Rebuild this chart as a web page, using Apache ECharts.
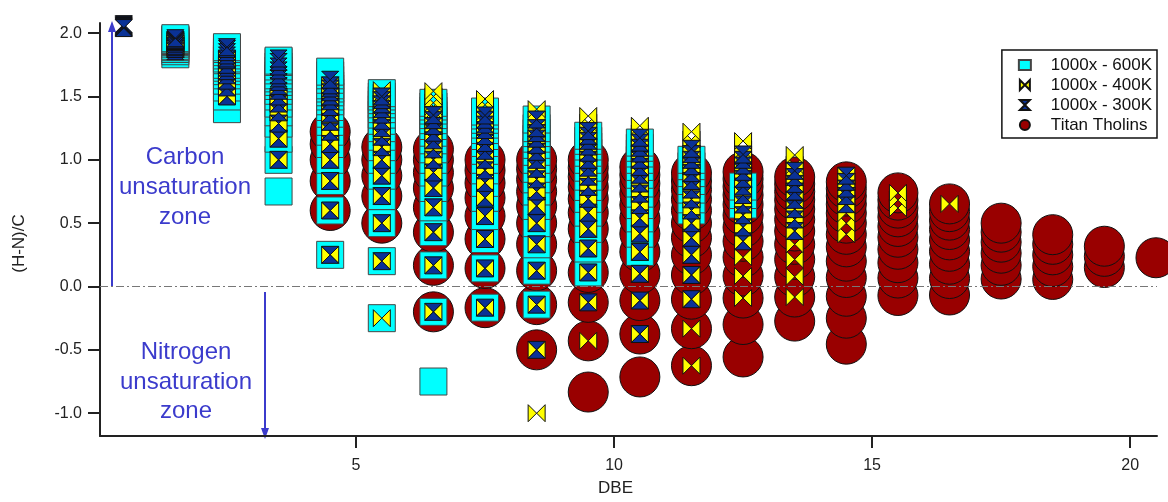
<!DOCTYPE html>
<html>
<head>
<meta charset="utf-8">
<script src="https://cdn.jsdelivr.net/npm/echarts@6/dist/echarts.min.js"></script>
<style>
html,body{margin:0;padding:0;background:#fff;}
#chart{width:1168px;height:502px;}
</style>
</head>
<body>
<div id="chart"></div>
<script>
// Each row: [DBE, (H-N)/C values...]
const seriesNames = ['1000x - 600K', '1000x - 400K', '1000x - 300K', 'Titan Tholins'];

const tholinsRows = [
  [4.5, 0.6, 0.833, 1.0, 1.125, 1.222],
  [5.5, 0.5, 0.714, 0.875, 1.0, 1.1],
  [6.5, -0.2, 0.167, 0.429, 0.625, 0.778, 0.9, 1.0, 1.083],
  [7.5, -0.167, 0.143, 0.375, 0.556, 0.7, 0.818, 0.917, 1.0],
  [8.5, -0.5, -0.143, 0.125, 0.333, 0.5, 0.636, 0.75, 0.846, 0.929, 1.0],
  [9.5, -0.833, -0.429, -0.125, 0.111, 0.3, 0.455, 0.583, 0.692, 0.786, 0.867, 0.938, 1.0],
  [10.5, -0.714, -0.375, -0.111, 0.1, 0.273, 0.417, 0.538, 0.643, 0.733, 0.813, 0.882, 0.944],
  [11.5, -0.625, -0.333, -0.1, 0.091, 0.25, 0.385, 0.5, 0.6, 0.688, 0.765, 0.833, 0.895],
  [12.5, -0.556, -0.3, -0.091, 0.083, 0.231, 0.357, 0.467, 0.563, 0.647, 0.722, 0.789, 0.85, 0.905],
  [13.5, -0.273, -0.083, 0.077, 0.214, 0.333, 0.438, 0.529, 0.611, 0.684, 0.75, 0.81, 0.864],
  [14.5, -0.455, -0.25, -0.077, 0.071, 0.2, 0.313, 0.412, 0.5, 0.579, 0.65, 0.714, 0.773, 0.826],
  [15.5, -0.071, 0.067, 0.188, 0.294, 0.389, 0.474, 0.55, 0.619, 0.682, 0.739],
  [16.5, -0.067, 0.063, 0.176, 0.278, 0.368, 0.45, 0.524, 0.591, 0.652],
  [17.5, 0.059, 0.167, 0.263, 0.35, 0.429, 0.5],
  [18.5, 0.056, 0.158, 0.25, 0.333, 0.409],
  [19.5, 0.15, 0.238, 0.318],
  [20.5, 0.227]
];

const k600Rows = [
  [1.5, 1.833, 1.857, 1.875, 1.889, 1.9, 1.917, 1.929, 1.938, 1.944, 1.95, 1.96],
  [2.5, 1.4, 1.5, 1.571, 1.625, 1.667, 1.7, 1.727, 1.75, 1.786, 1.8, 1.824, 1.85, 1.875, 1.889],
  [3.5, 0.75, 1.0, 1.167, 1.286, 1.375, 1.444, 1.5, 1.545, 1.583, 1.615, 1.643, 1.667, 1.706, 1.737, 1.773, 1.783],
  [4.5, 0.25, 0.6, 0.833, 1.0, 1.125, 1.222, 1.3, 1.364, 1.417, 1.462, 1.5, 1.533, 1.563, 1.588, 1.632, 1.667, 1.696],
  [5.5, -0.25, 0.2, 0.5, 0.714, 0.875, 1.0, 1.1, 1.182, 1.25, 1.308, 1.357, 1.4, 1.438, 1.471, 1.5, 1.526],
  [6.5, -0.75, -0.2, 0.167, 0.429, 0.625, 0.778, 0.9, 1.0, 1.083, 1.154, 1.214, 1.267, 1.313, 1.353, 1.389, 1.421, 1.45],
  [7.5, -0.167, 0.143, 0.375, 0.556, 0.7, 0.818, 0.917, 1.0, 1.071, 1.133, 1.188, 1.235, 1.278, 1.316, 1.35, 1.381],
  [8.5, -0.143, 0.125, 0.333, 0.5, 0.636, 0.75, 0.846, 0.929, 1.0, 1.063, 1.118, 1.167, 1.211, 1.25, 1.318],
  [9.5, 0.111, 0.3, 0.455, 0.583, 0.692, 0.786, 0.867, 0.938, 1.0, 1.056, 1.105, 1.15, 1.19],
  [10.5, 0.273, 0.417, 0.538, 0.643, 0.733, 0.813, 0.882, 0.944, 1.0, 1.05, 1.095, 1.136],
  [11.5, 0.6, 0.688, 0.765, 0.833, 0.895, 0.95, 1.0],
  [12.5, 0.647, 0.722, 0.789]
];

const k400Rows = [
  [1.5, 1.875, 1.9, 1.917, 1.929, 1.944],
  [2.5, 1.5, 1.571, 1.625, 1.667, 1.7, 1.75, 1.8],
  [3.5, 1.0, 1.167, 1.286, 1.375, 1.444, 1.5],
  [4.5, 0.25, 0.6, 0.833, 1.0, 1.125, 1.222, 1.3, 1.364, 1.417, 1.462, 1.5, 1.533, 1.563, 1.588],
  [5.5, -0.25, 0.2, 0.5, 0.714, 0.875, 1.0, 1.1, 1.182, 1.25, 1.308, 1.357, 1.4, 1.438, 1.471, 1.5, 1.526, 1.55],
  [6.5, -0.2, 0.167, 0.429, 0.625, 0.778, 0.9, 1.0, 1.083, 1.154, 1.214, 1.267, 1.313, 1.353, 1.389, 1.421, 1.45, 1.5, 1.542],
  [7.5, -0.167, 0.143, 0.375, 0.556, 0.7, 0.818, 0.917, 1.0, 1.071, 1.133, 1.188, 1.235, 1.278, 1.316, 1.35, 1.381, 1.435, 1.48],
  [8.5, -1.0, -0.5, -0.143, 0.125, 0.333, 0.5, 0.636, 0.75, 0.846, 0.929, 1.0, 1.063, 1.118, 1.167, 1.211, 1.25, 1.318, 1.4],
  [9.5, -0.429, -0.125, 0.111, 0.3, 0.455, 0.583, 0.692, 0.786, 0.867, 0.938, 1.0, 1.056, 1.105, 1.15, 1.19, 1.227, 1.292, 1.346],
  [10.5, -0.375, -0.111, 0.1, 0.273, 0.417, 0.538, 0.643, 0.733, 0.813, 0.882, 0.944, 1.0, 1.05, 1.095, 1.136, 1.174, 1.208, 1.269],
  [11.5, -0.625, -0.333, -0.1, 0.091, 0.25, 0.385, 0.5, 0.6, 0.688, 0.765, 0.833, 0.895, 0.95, 1.0, 1.045, 1.087, 1.16, 1.222],
  [12.5, -0.091, 0.083, 0.231, 0.357, 0.467, 0.563, 0.647, 0.722, 0.789, 0.85, 0.905, 0.955, 1.0, 1.042, 1.08, 1.148],
  [13.5, -0.083, 0.077, 0.214, 0.333, 0.438, 0.529, 0.611, 0.684, 0.75, 0.81, 0.864, 0.913, 0.958, 1.038],
  [14.5, 0.412, 0.5, 0.579, 0.65, 0.714, 0.773, 0.826, 0.875],
  [15.5, 0.619, 0.682, 0.739],
  [16.5, 0.652]
];

const k300Rows = [
  [0.5, 2.071, 2.063, 2.056, 2.05, 2.045, 2.04],
  [1.5, 1.857, 1.875, 1.889, 1.9, 1.917, 1.929, 1.938, 1.944, 1.95, 1.96],
  [2.5, 1.5, 1.571, 1.625, 1.667, 1.7, 1.727, 1.75, 1.786, 1.8, 1.824, 1.85, 1.875, 1.889],
  [3.5, 1.0, 1.167, 1.286, 1.375, 1.444, 1.5, 1.545, 1.583, 1.615, 1.643, 1.667, 1.706, 1.737, 1.773, 1.8],
  [4.5, 0.25, 0.6, 0.833, 1.0, 1.125, 1.222, 1.3, 1.364, 1.417, 1.462, 1.5, 1.533, 1.563, 1.588, 1.632],
  [5.5, 0.2, 0.5, 0.714, 0.875, 1.0, 1.1, 1.182, 1.25, 1.308, 1.357, 1.4, 1.438, 1.471, 1.5],
  [6.5, -0.2, 0.167, 0.429, 0.625, 0.778, 0.9, 1.0, 1.083, 1.154, 1.214, 1.267, 1.313, 1.353],
  [7.5, -0.167, 0.143, 0.375, 0.556, 0.7, 0.818, 0.917, 1.0, 1.071, 1.133, 1.188, 1.235, 1.278, 1.316, 1.35],
  [8.5, -0.5, -0.143, 0.125, 0.333, 0.5, 0.636, 0.75, 0.846, 0.929, 1.0, 1.063, 1.118, 1.167, 1.211, 1.25, 1.318],
  [9.5, -0.125, 0.111, 0.3, 0.455, 0.583, 0.692, 0.786, 0.867, 0.938, 1.0, 1.056, 1.105, 1.15, 1.19, 1.227],
  [10.5, -0.375, -0.111, 0.1, 0.273, 0.417, 0.538, 0.643, 0.733, 0.813, 0.882, 0.944, 1.0, 1.05, 1.095, 1.136, 1.174],
  [11.5, -0.1, 0.091, 0.25, 0.385, 0.5, 0.6, 0.688, 0.765, 0.833, 0.895, 0.95, 1.0, 1.045, 1.087],
  [12.5, 0.357, 0.467, 0.563, 0.647, 0.722, 0.789, 0.85, 0.905, 0.955, 1.0, 1.042],
  [13.5, 0.438, 0.529, 0.611, 0.684, 0.75, 0.81, 0.864, 0.913],
  [14.5, 0.65, 0.714, 0.773, 0.826, 0.875]
];

const xTicks = [5, 10, 15, 20];
const yTicks = [-1.0, -0.5, 0.0, 0.5, 1.0, 1.5, 2.0];

function flatten(rows) {
  const out = [];
  rows.forEach(r => { for (let i = 1; i < r.length; i++) out.push([r[0], r[i]]); });
  return out;
}

const BOWTIE = 'path://M0,0L10,10L0,20ZM20,0L10,10L20,20Z';
const HOURGLASS = 'path://M0,0L20,0L10,10ZM0,20L20,20L10,10Z';
const ANN = '#3b3bcc';
const FONT = '"Liberation Sans", Arial, sans-serif';

const chart = echarts.init(document.getElementById('chart'), null, {renderer: 'canvas'});
chart.setOption({
  animation: false,
  backgroundColor: '#fff',
  grid: {left: 100, right: 11, top: 23, bottom: 63, containLabel: false},
  xAxis: {
    type: 'value', min: 0.04, max: 20.52,
    name: 'DBE', nameLocation: 'middle', nameGap: 44,
    nameTextStyle: {fontSize: 17, color: '#222', fontFamily: FONT, padding: [0, 26, 0, 0]},
    axisLine: {show: true, onZero: false, lineStyle: {color: '#222', width: 2}},
    axisTick: {show: true, inside: false, length: 12, lineStyle: {color: '#222', width: 2}, customValues: xTicks},
    axisLabel: {margin: 22, fontSize: 16, color: '#222', fontFamily: FONT, customValues: xTicks},
    splitLine: {show: false}
  },
  yAxis: {
    type: 'value', min: -1.18, max: 2.08,
    name: '(H-N)/C', nameLocation: 'middle', nameGap: 72,
    nameTextStyle: {fontSize: 17, color: '#222', fontFamily: FONT, padding: [0, 28, 0, 0]},
    axisLine: {show: true, onZero: false, lineStyle: {color: '#222', width: 2}},
    axisTick: {show: true, inside: false, length: 12, lineStyle: {color: '#222', width: 2}, customValues: yTicks},
    axisLabel: {margin: 18, fontSize: 16, color: '#222', fontFamily: FONT, customValues: yTicks,
      formatter: v => Number(v).toFixed(1)},
    splitLine: {show: false}
  },
  legend: {
    orient: 'vertical', right: 11, top: 50,
    backgroundColor: '#fff', borderColor: '#111', borderWidth: 1.5,
    padding: [5, 5, 3, 16],
    itemWidth: 12, itemHeight: 10, itemGap: 0,
    selectedMode: false,
    textStyle: {fontSize: 17, color: '#111', fontFamily: FONT, lineHeight: 20, padding: [0, 0, 0, 15]},
    data: [
      {name: seriesNames[0], icon: 'rect'},
      {name: seriesNames[1], icon: BOWTIE},
      {name: seriesNames[2], icon: HOURGLASS},
      {name: seriesNames[3], icon: 'circle'}
    ]
  },
  series: [
    {
      name: seriesNames[3], type: 'scatter', clip: false,
      symbol: 'circle', symbolSize: 40,
      itemStyle: {color: '#990000', borderColor: '#111', borderWidth: 1, opacity: 1},
      data: flatten(tholinsRows)
    },
    {
      name: seriesNames[0], type: 'scatter', clip: false,
      symbol: 'rect', symbolSize: 27,
      itemStyle: {color: '#00ffff', borderColor: '#444', borderWidth: 1, opacity: 1},
      data: flatten(k600Rows)
    },
    {
      name: seriesNames[1], type: 'scatter', clip: false,
      symbol: BOWTIE, symbolSize: 17,
      itemStyle: {color: '#ffff00', borderColor: '#111', borderWidth: 1, opacity: 1},
      data: flatten(k400Rows)
    },
    {
      name: seriesNames[2], type: 'scatter', clip: false,
      symbol: HOURGLASS, symbolSize: 17,
      itemStyle: {color: '#0a3296', borderColor: '#111', borderWidth: 1, opacity: 1},
      data: flatten(k300Rows),
      markLine: {
        silent: true, symbol: 'none', z: 10,
        label: {show: false},
        lineStyle: {color: '#777', width: 1, type: [8, 3, 2, 3]},
        data: [{yAxis: 0}]
      }
    }
  ],
  graphic: [
    {type: 'line', shape: {x1: 112, y1: 287, x2: 112, y2: 30}, style: {stroke: ANN, lineWidth: 2}},
    {type: 'polygon', shape: {points: [[112, 21], [108, 32], [116, 32]]}, style: {fill: ANN}},
    {type: 'line', shape: {x1: 265, y1: 292, x2: 265, y2: 430}, style: {stroke: ANN, lineWidth: 2}},
    {type: 'polygon', shape: {points: [[265, 439], [261, 428], [269, 428]]}, style: {fill: ANN}},
    {type: 'text', x: 185, y: 157, style: {text: 'Carbon', font: '24px ' + FONT, fill: ANN, align: 'center', verticalAlign: 'middle'}},
    {type: 'text', x: 185, y: 187, style: {text: 'unsaturation', font: '24px ' + FONT, fill: ANN, align: 'center', verticalAlign: 'middle'}},
    {type: 'text', x: 185, y: 217, style: {text: 'zone', font: '24px ' + FONT, fill: ANN, align: 'center', verticalAlign: 'middle'}},
    {type: 'text', x: 186, y: 352, style: {text: 'Nitrogen', font: '24px ' + FONT, fill: ANN, align: 'center', verticalAlign: 'middle'}},
    {type: 'text', x: 186, y: 382, style: {text: 'unsaturation', font: '24px ' + FONT, fill: ANN, align: 'center', verticalAlign: 'middle'}},
    {type: 'text', x: 186, y: 411, style: {text: 'zone', font: '24px ' + FONT, fill: ANN, align: 'center', verticalAlign: 'middle'}}
  ]
});
</script>
</body>
</html>
